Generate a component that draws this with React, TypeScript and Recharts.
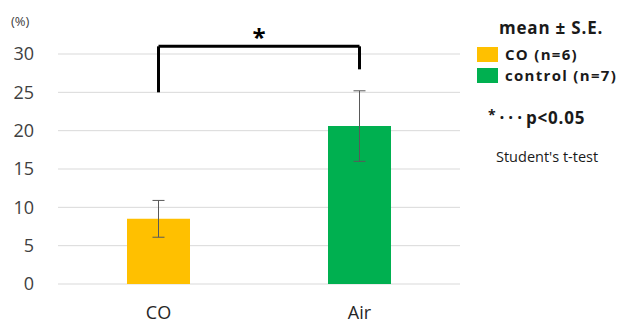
import { BarChart, Bar, XAxis, YAxis, CartesianGrid, ErrorBar, ReferenceLine } from "recharts";

const categories = ["CO", "Air"];
const means = [8.5, 20.6];
const stdErrors = [2.4, 4.6];
const barColors = ["#FFC000", "#00B050"];
const legendLabels = ["CO (n=6)", "control (n=7)"];
const yTicks = [0, 5, 10, 15, 20, 25, 30];

// significance bracket, in data units
const bracketTop = 31;
const bracketLeftBottom = 25;
const bracketRightBottom = 28;

const data = categories.map((name, i) => ({ name, mean: means[i], se: stdErrors[i], fill: barColors[i] }));

const font = "'Open Sans', 'Noto Sans', sans-serif";

// a legend row placed by its vertical centre
const row = (top: number, lh: number): React.CSSProperties => ({
  position: "absolute",
  top: top - lh / 2,
  height: lh,
  lineHeight: `${lh}px`,
  whiteSpace: "nowrap",
});

export default function App() {
  return (
    <div style={{ position: "absolute", left: 0, top: 0, width: 633, height: 326, background: "#fff", fontFamily: font }}>
      <BarChart
        width={633}
        height={326}
        data={data}
        margin={{ top: 54, right: 173, left: 0, bottom: 12 }}
      >
        <CartesianGrid vertical={false} stroke="#d9d9d9" />
        <XAxis
          dataKey="name"
          axisLine={false}
          tickLine={false}
          tickSize={0}
          tickMargin={22}
          height={30}
          tick={{ fill: "#262626", fontSize: 18, fontFamily: font }}
        />
        <YAxis
          domain={[0, 30]}
          ticks={yTicks}
          axisLine={false}
          tickLine={false}
          tickSize={0}
          tickMargin={24}
          width={58}
          tick={{ fill: "#404040", fontSize: 18, fontFamily: font }}
        />
        <Bar dataKey="mean" barSize={63} isAnimationActive={false}>
          <ErrorBar dataKey="se" width={6} stroke="#595959" strokeWidth={1} isAnimationActive={false} />
        </Bar>
        <ReferenceLine
          segment={[{ x: "CO", y: bracketLeftBottom }, { x: "CO", y: bracketTop }]}
          stroke="#000"
          strokeWidth={3}
          ifOverflow="visible"
        />
        <ReferenceLine
          segment={[{ x: "CO", y: bracketTop }, { x: "Air", y: bracketTop }]}
          stroke="#000"
          strokeWidth={3}
          ifOverflow="visible"
          label={{ value: "*", position: "top", fill: "#000", fontSize: 24, fontWeight: "bold", offset: 0 }}
        />
        <ReferenceLine
          segment={[{ x: "Air", y: bracketTop }, { x: "Air", y: bracketRightBottom }]}
          stroke="#000"
          strokeWidth={3}
          ifOverflow="visible"
        />
      </BarChart>
      <div style={{ position: "absolute", left: 11, top: 12, fontSize: 13, color: "#404040" }}>(%)</div>
      <div style={{ position: "absolute", left: 0, top: 0, color: "#1a1a1a", fontSize: 15, fontWeight: "bold", letterSpacing: 1.3 }}>
        <div style={{ ...row(28, 20), left: 499, fontSize: 17, letterSpacing: 0.8 }}>mean ± S.E.</div>
        {legendLabels.map((label, i) => (
          <div key={label} style={{ ...row(54 + i * 21, 18), left: 477, display: "flex", alignItems: "center" }}>
            <span style={{ display: "inline-block", width: 21, height: 15, background: barColors[i], marginRight: 7 }} />
            {label}
          </div>
        ))}
        <div style={{ ...row(118, 20), left: 488, fontSize: 17, letterSpacing: 0.8 }}>
          <span style={{ position: "relative", top: -4, fontSize: 14 }}>*</span>
          <span style={{ letterSpacing: 4, marginLeft: 3 }}>···</span>p&lt;0.05
        </div>
        <div style={{ ...row(157, 18), left: 496, fontSize: 14.5, fontWeight: "normal", letterSpacing: 0 }}>Student's t-test</div>
      </div>
    </div>
  );
}
